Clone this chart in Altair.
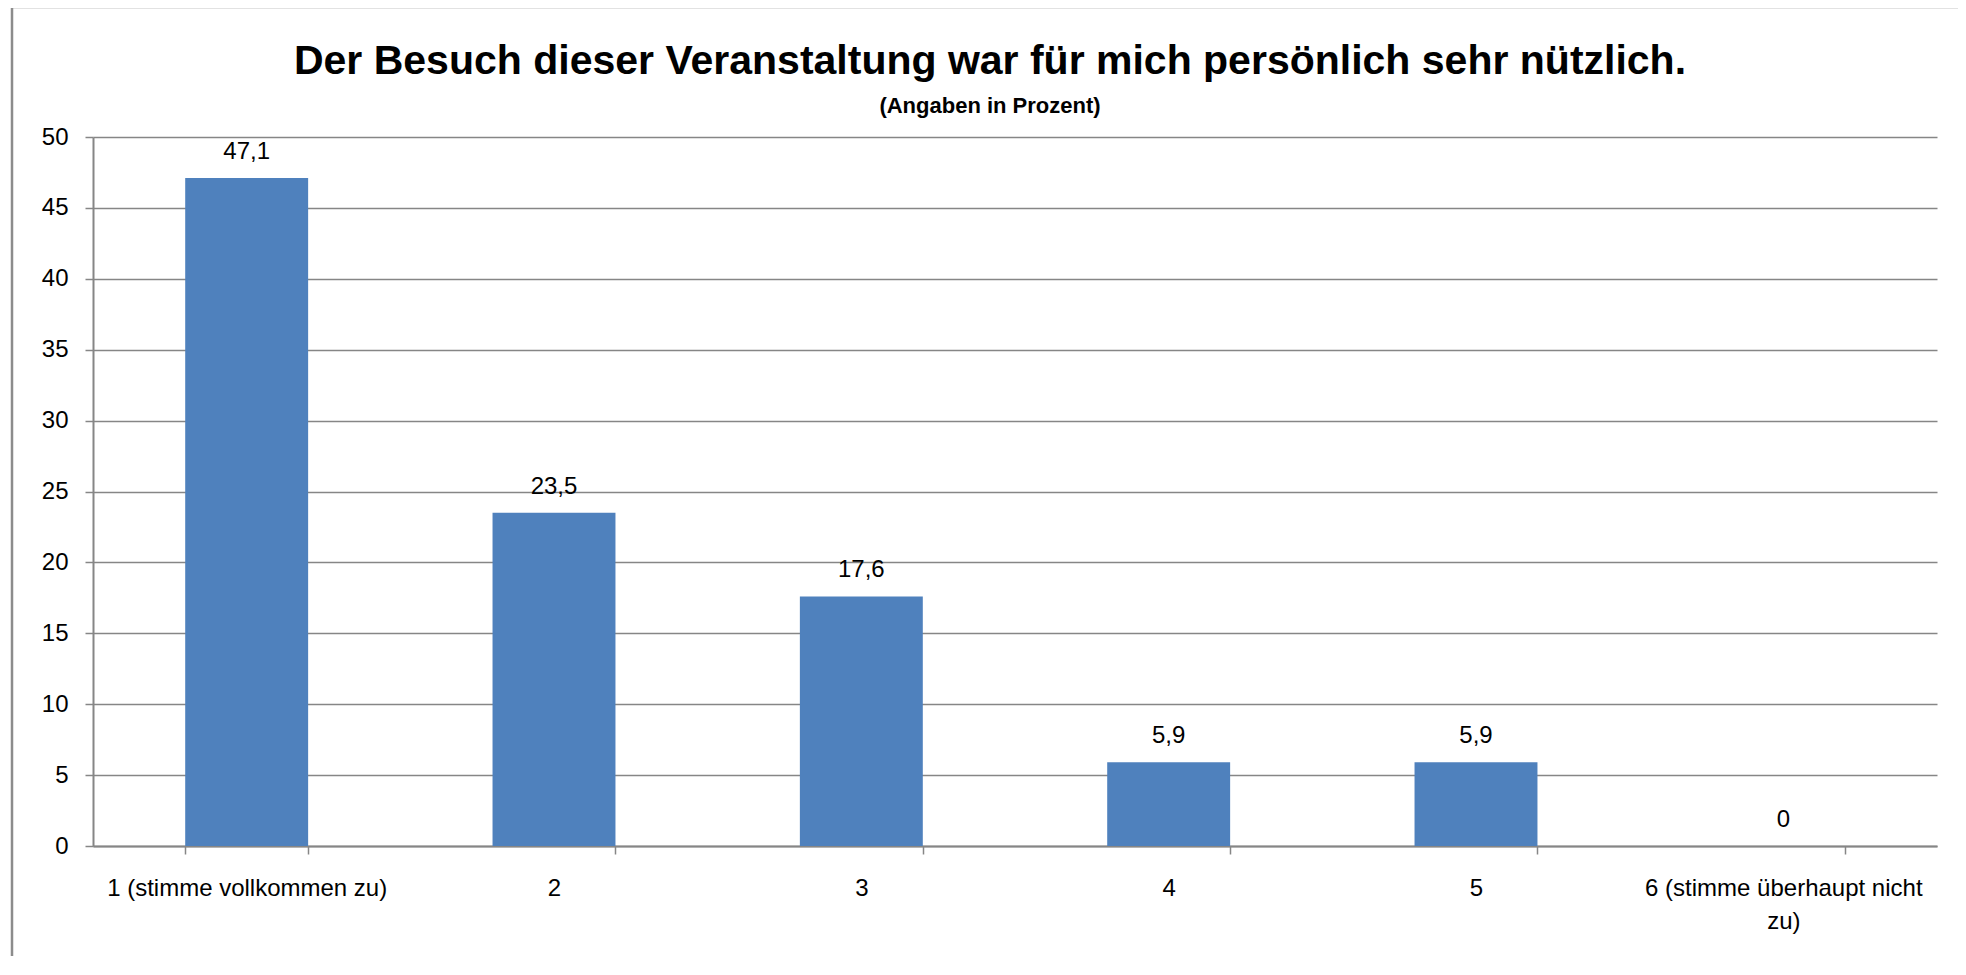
import altair as alt
import pandas as pd

categories = ["1 (stimme vollkommen zu)", "2", "3", "4", "5", "6 (stimme überhaupt nicht zu)"]
values = [47.1, 23.5, 17.6, 5.9, 5.9, 0]
value_labels = ["47,1", "23,5", "17,6", "5,9", "5,9", "0"]
y_ticks = [0, 5, 10, 15, 20, 25, 30, 35, 40, 45, 50]

title_text = "Der Besuch dieser Veranstaltung war für mich persönlich sehr nützlich."
subtitle_text = "(Angaben in Prozent)"

FONT = "Liberation Sans"
GRAY = "#868686"
BAR = "#4F81BD"

df = pd.DataFrame({"cat": categories, "value": values, "label": value_labels})

x_enc = alt.X(
    "cat:N",
    sort=categories,
    title=None,
    scale=alt.Scale(paddingInner=0.6, paddingOuter=0.3),
    axis=alt.Axis(
        labelAngle=0,
        labelFont=FONT,
        labelFontSize=24,
        labelColor="black",
        labelPadding=22,
        labelLimit=600,
        labelLineHeight=33,
        tickSize=8,
        tickColor=GRAY,
        tickWidth=1.5,
        domainColor=GRAY,
        domainWidth=2,
        tickBand="extent",
        grid=False,
        labelExpr="datum.value == '6 (stimme überhaupt nicht zu)' ? ['6 (stimme überhaupt nicht', 'zu)'] : datum.value",
    ),
)

y_enc = alt.Y(
    "value:Q",
    title=None,
    scale=alt.Scale(domain=[0, 50], nice=False),
    axis=alt.Axis(
        values=y_ticks,
        labelFont=FONT,
        labelFontSize=24,
        labelColor="black",
        labelPadding=17,
        tickSize=8,
        tickColor=GRAY,
        tickWidth=1.5,
        domainColor=GRAY,
        domainWidth=2,
        grid=True,
        gridColor=GRAY,
        gridWidth=1.5,
    ),
)

base = alt.Chart(df)

bars = base.mark_bar(color=BAR).encode(x=x_enc, y=y_enc)

texts = base.mark_text(
    dy=-19, baseline="alphabetic", font=FONT, fontSize=24, color="black"
).encode(x=alt.X("cat:N", sort=categories), y=alt.Y("value:Q"), text="label:N")

one = pd.DataFrame({"k": [0]})
frame_v = alt.Chart(one).mark_rule(color="#8C8C8C", strokeWidth=2.5).encode(
    x=alt.value(-81), y=alt.value(-130), y2=alt.value(900)
)
frame_h = alt.Chart(one).mark_rule(color="#8C8C8C", strokeWidth=2.5).encode(
    x=alt.value(-81), x2=alt.value(2000), y=alt.value(-130)
)

title_mark = alt.Chart(pd.DataFrame({"t": [title_text]})).mark_text(
    font=FONT, fontSize=41, fontWeight="bold", color="black",
    align="center", baseline="alphabetic",
).encode(x=alt.value(897), y=alt.value(-63), text="t:N")

subtitle_mark = alt.Chart(pd.DataFrame({"t": [subtitle_text]})).mark_text(
    font=FONT, fontSize=22, fontWeight="bold", color="black",
    align="center", baseline="alphabetic",
).encode(x=alt.value(897), y=alt.value(-24), text="t:N")

chart = (
    alt.layer(frame_v, frame_h, bars, texts, title_mark, subtitle_mark)
    .properties(
        width=1844,
        height=709,
        autosize=alt.AutoSizeParams(type="none"),
        padding={"left": 85, "top": 129, "right": 21, "bottom": 110},
        background="white",
    )
    .configure_view(strokeWidth=0)
)

chart.save("out.html", embed_options={"renderer": "svg", "actions": False})
